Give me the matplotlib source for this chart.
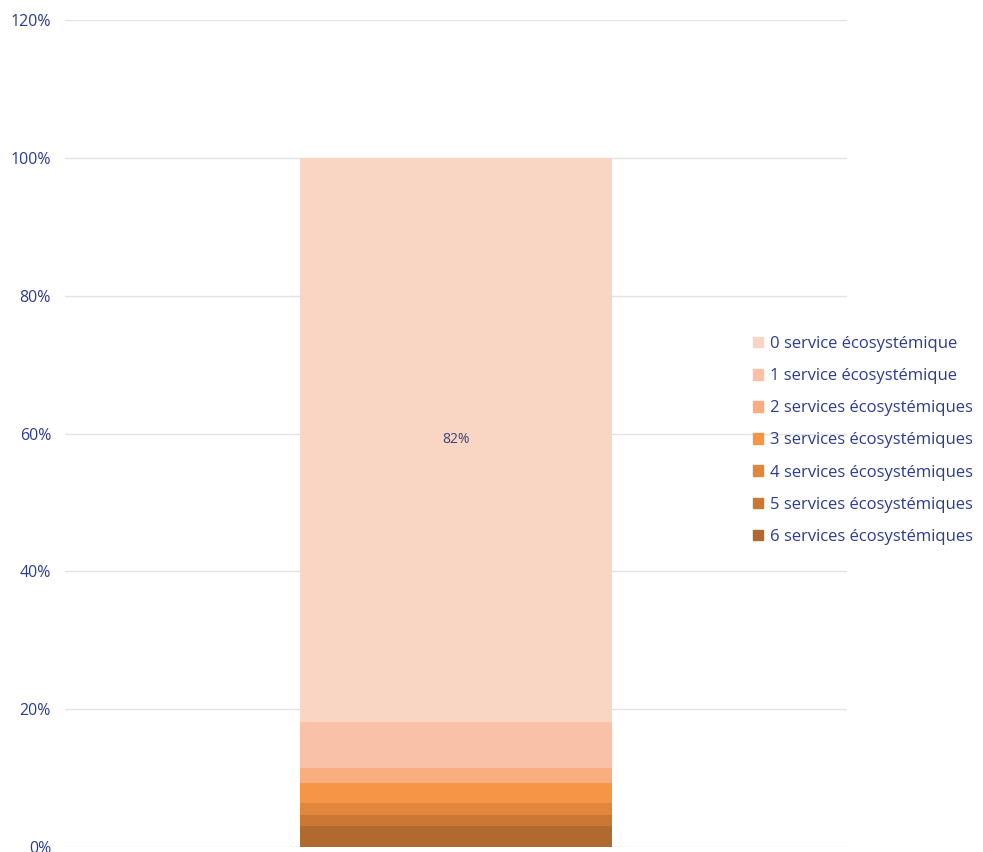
import matplotlib.pyplot as plt
from matplotlib.patches import Patch

categories = ["0 service écosystémique", "1 service écosystémique",
              "2 services écosystémiques", "3 services écosystémiques",
              "4 services écosystémiques", "5 services écosystémiques",
              "6 services écosystémiques"]
values = [81.8, 6.7, 2.2, 2.9, 1.7, 1.7, 3.0]
colors = ["#F9D5C4", "#F9C2A8", "#F8AE80", "#F59545", "#E0873D", "#CB7835", "#B06A30"]
ticks = [0, 20, 40, 60, 80, 100, 120]

txt = "#2B3D8C"
plt.rcParams['font.family'] = ['Open Sans', 'DejaVu Sans']

fig = plt.figure(figsize=(9.83, 8.52), dpi=100)
ax = fig.add_axes([65/983, 1-847/852, 782/983, 827/852])

# stack from the highest count at the bottom
bottom = 0
for lab, v, c in list(zip(categories, values, colors))[::-1]:
    ax.bar(0, v, width=0.4, bottom=bottom, color=c, zorder=2)
    if v > 50:
        ax.text(0, bottom + v/2, f"{round(v)}%", ha="center", va="center",
                fontsize=10, color="#3B4677")
    bottom += v

ax.set_xlim(-0.5, 0.5)
ax.set_ylim(0, 120)
ax.set_yticks(ticks)
ax.set_yticklabels([f"{t}%" for t in ticks])
ax.set_xticks([])
ax.grid(axis="y", color="#E3E3E3", linewidth=1, zorder=0)
for s in ax.spines.values():
    s.set_visible(False)
ax.tick_params(axis="y", length=0, pad=10, labelsize=11.5, labelcolor=txt)

handles = [Patch(color=c) for c in colors]
fig.legend(handles, categories, loc="center left", bbox_to_anchor=(0.758, 0.483),
           frameon=False, fontsize=12, labelcolor=txt, handlelength=0.6,
           handleheight=0.6, handletextpad=0.4, labelspacing=0.97, borderpad=0)

fig.savefig("out.png", dpi=100)
